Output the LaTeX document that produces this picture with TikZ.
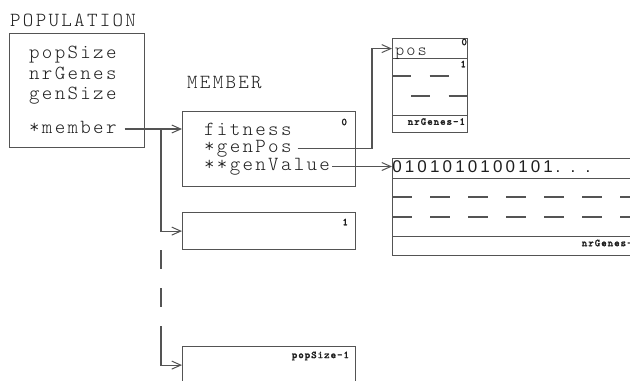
\documentclass[tikz,border=0pt]{standalone}
\usepackage{fontspec}
\newfontfamily\codefont{lmmonolt10-regular.otf}[LetterSpace=11.5]
\newfontfamily\labfont{lmmonolt10-bold.otf}[LetterSpace=9, FakeBold=1.6]
\newfontfamily\digfont{Liberation Sans}
\usetikzlibrary{arrows.meta}
\definecolor{linec}{gray}{0.33}
\definecolor{textc}{gray}{0.12}
\tikzset{
  box/.style={draw=linec, line width=1.2bp, inner sep=0pt, anchor=north west},
  conn/.style={draw=linec, line width=1.2bp},
  arr/.style={conn, -{Straight Barb[length=9bp,width=8bp,line width=1bp]}},
  txt/.style={inner sep=0pt, anchor=base west, text=textc, text height=8bp, text depth=0pt,
              font=\codefont\fontsize{20bp}{22bp}\selectfont},
  small/.style={inner sep=0pt, text=textc, font=\labfont\fontsize{10.5bp}{12bp}\selectfont},
  dig/.style={inner sep=0pt, anchor=base, text=textc, font=\digfont\fontsize{17bp}{20bp}\selectfont},
  dashrow/.style={conn, dash pattern=on 19bp off 18.5bp},
}
\begin{document}
\begin{tikzpicture}[x=1bp,y=-1bp]
\useasboundingbox (0,0) rectangle (630,380);
\clip (0,0) rectangle (630,380);

% POPULATION
\node[txt] (poplabel) at (10,26) {POPULATION};
\node[box, minimum width=135bp, minimum height=114bp] (pop) at (9,33) {};
\node[txt] (ps) at (29,58.5) {popSize};
\node[txt] (ng) at (29,79) {nrGenes};
\node[txt] (gs) at (29,99.5) {genSize};
\node[txt] (mem) at (29,133) {*member};

% MEMBER
\node[txt] (memlabel) at (187,88) {MEMBER};
\node[box, minimum width=173bp, minimum height=75bp] (m0) at (182,111) {};
\node[txt] (fit) at (204,135) {fitness};
\node[txt] (gp) at (204,152.5) {*genPos};
\node[txt] (gv) at (204,170.5) {**genValue};
\node[small] (m0i) at ([xshift=-12bp,yshift=-11bp]m0.north east) {0};

\node[box, minimum width=173bp, minimum height=37bp] (m1) at (182,212) {};
\node[small] (m1i) at ([xshift=-11bp,yshift=-10bp]m1.north east) {1};

\node[box, minimum width=173bp, minimum height=37bp] (m2) at (182,346) {};
\node[small, anchor=east] (m2i) at ([xshift=-7bp,yshift=-10bp]m2.north east) {popSize-1};

% pos array
\node[box, minimum width=75bp, minimum height=20bp] (posr0) at (392,38) {};
\node[box, minimum width=75bp, minimum height=57bp] (posmid) at (392,58) {};
\node[box, minimum width=75bp, minimum height=17bp] (posend) at (392,115) {};
\node[inner sep=0pt, anchor=base west, text=textc, font=\codefont\fontsize{17.5bp}{20bp}\selectfont] (postxt) at (395,55) {pos};
\node[small] (pos0) at ([xshift=-4bp,yshift=-4bp]posr0.north east) {0};
\node[small] (pos1) at ([xshift=-5bp,yshift=-6bp]posmid.north east) {1};
\node[small, anchor=east] (posn) at ([xshift=-3bp,yshift=2.5bp]posend.east) {nrGenes-1};
\draw[dashrow] ([yshift=-18bp]posmid.north west) -- ([yshift=-18bp]posmid.north east);
\draw[dashrow, dash phase=18.5bp] ([yshift=-38bp]posmid.north west) -- ([yshift=-38bp]posmid.north east);

% genValue array
\node[box, minimum width=260bp, minimum height=20bp] (gvr0) at (392,158) {};
\node[box, minimum width=260bp, minimum height=58bp] (gvmid) at (392,178) {};
\node[box, minimum width=260bp, minimum height=19bp] (gvend) at (392,236) {};
\foreach \c [count=\i from 0] in {0,1,0,1,0,1,0,1,0,0,1,0,1}
  \node[dig] (d\i) at (397+12.6*\i,172.7) {\c};
\node[dig] (dot1) at (558,172.7) {.};
\node[dig] (dot2) at (573,172.7) {.};
\node[dig] (dot3) at (588,172.7) {.};
\node[small, anchor=east] (gvn) at ([xshift=-14bp,yshift=-7bp]gvend.north east) {nrGenes-1};
\draw[conn, dash pattern=on 20bp off 18bp] ([yshift=-19bp]gvmid.north west) -- ([yshift=-19bp]gvmid.north east);
\draw[conn, dash pattern=on 20bp off 18bp] ([yshift=-39bp]gvmid.north west) -- ([yshift=-39bp]gvmid.north east);

% connectors
\coordinate (br) at (161,0);
\coordinate (dend) at (161,326);
\coordinate (jog) at (372,0);
\draw[arr] ([xshift=8bp]mem.east) -- (mem.east -| m0.west);
\draw[arr] (mem.east -| br) |- (m1.west);
\draw[conn, dash pattern=on 19bp off 19bp, dash phase=19bp] (m1.west -| br) -- (dend);
\draw[arr] (dend) |- (m2.west);
\draw[arr] ([xshift=6bp]gp.east) -- (gp.east -| jog) |- (posr0.west);
\draw[arr] ([xshift=2bp]gv.east) -- (gv.east -| gvr0.west);
\end{tikzpicture}
\end{document}
